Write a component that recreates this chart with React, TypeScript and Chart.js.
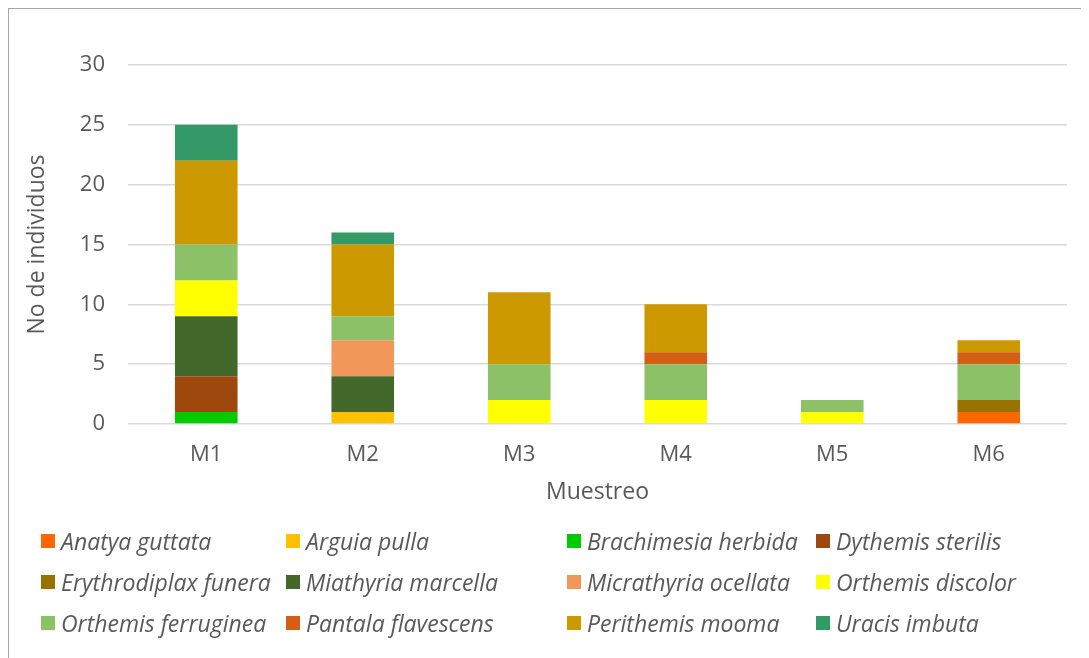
import React, { useEffect, useRef } from "react";
import { Chart, registerables } from "chart.js";

Chart.register(...registerables);

const categories = ["M1", "M2", "M3", "M4", "M5", "M6"];

const species = [
  "Anatya guttata",
  "Arguia pulla",
  "Brachimesia herbida",
  "Dythemis sterilis",
  "Erythrodiplax funera",
  "Miathyria marcella",
  "Micrathyria ocellata",
  "Orthemis discolor",
  "Orthemis ferruginea",
  "Pantala flavescens",
  "Perithemis mooma",
  "Uracis imbuta",
];

const anatyaGuttata = [0, 0, 0, 0, 0, 1];
const arguiaPulla = [0, 1, 0, 0, 0, 0];
const brachimesiaHerbida = [1, 0, 0, 0, 0, 0];
const dythemisSterilis = [3, 0, 0, 0, 0, 0];
const erythrodiplaxFunera = [0, 0, 0, 0, 0, 1];
const miathyriaMarcella = [5, 3, 0, 0, 0, 0];
const micrathyriaOcellata = [0, 3, 0, 0, 0, 0];
const orthemisDiscolor = [3, 0, 2, 2, 1, 0];
const orthemisFerruginea = [3, 2, 3, 3, 1, 3];
const pantalaFlavescens = [0, 0, 0, 1, 0, 1];
const perithemisMooma = [7, 6, 6, 4, 0, 1];
const uracisImbuta = [3, 1, 0, 0, 0, 0];

const seriesValues = [
  anatyaGuttata,
  arguiaPulla,
  brachimesiaHerbida,
  dythemisSterilis,
  erythrodiplaxFunera,
  miathyriaMarcella,
  micrathyriaOcellata,
  orthemisDiscolor,
  orthemisFerruginea,
  pantalaFlavescens,
  perithemisMooma,
  uracisImbuta,
];

const colors = [
  "#FF6600",
  "#FFC000",
  "#00CC00",
  "#9E480E",
  "#997300",
  "#43682B",
  "#F1975A",
  "#FFFF00",
  "#8CC168",
  "#D45F14",
  "#CC9900",
  "#339966",
];

const yTicks = [0, 5, 10, 15, 20, 25, 30];

const FONT = "'Open Sans', sans-serif";
const TEXT = "#595959";

export default function App() {
  const ref = useRef<HTMLCanvasElement | null>(null);

  useEffect(() => {
    if (!ref.current) return;
    const chart = new Chart(ref.current, {
      type: "bar",
      data: {
        labels: categories,
        datasets: species.map((name, i) => ({
          label: name,
          data: seriesValues[i],
          backgroundColor: colors[i],
          borderWidth: 0,
          barPercentage: 0.4,
          categoryPercentage: 1,
        })),
      },
      options: {
        animation: false,
        responsive: true,
        maintainAspectRatio: false,
        layout: { padding: { left: 12, right: 14, top: 57, bottom: 17 } },
        plugins: {
          legend: { display: false },
          tooltip: { enabled: false },
        },
        scales: {
          x: {
            stacked: true,
            grid: { display: false, drawTicks: false },
            border: { display: false },
            ticks: {
              color: TEXT,
              padding: 18,
              font: { family: FONT, size: 22 },
            },
            title: {
              display: true,
              text: "Muestreo",
              color: TEXT,
              padding: { top: -8, bottom: 0 },
              font: { family: FONT, size: 23 },
            },
          },
          y: {
            stacked: true,
            min: 0,
            max: 30,
            afterFit: (scale: any) => {
              scale.width = 108;
            },
            afterBuildTicks: (scale: any) => {
              scale.ticks = yTicks.map((v) => ({ value: v }));
            },
            grid: { color: "#D9D9D9", lineWidth: 1.5, drawTicks: false },
            border: { display: false },
            ticks: {
              color: TEXT,
              padding: 23,
              font: { family: FONT, size: 22 },
            },
            title: {
              display: true,
              text: "No de individuos",
              color: TEXT,
              padding: { top: 4, bottom: 0 },
              font: { family: FONT, size: 23 },
            },
          },
        },
      },
    });
    return () => chart.destroy();
  }, []);

  const colWidths = [245, 281, 249, 240];

  return (
    <div style={{ position: "relative", width: 1073, height: 650 }}>
      <div
        style={{
          position: "absolute",
          left: -1,
          top: -1,
          width: 1100,
          height: 700,
          borderTop: "2px solid #A6A6A6",
          borderLeft: "2px solid #A6A6A6",
          pointerEvents: "none",
        }}
      />
      <div style={{ position: "absolute", left: 0, top: 0, width: 1073, height: 515 }}>
        <canvas ref={ref} />
      </div>
      <div
        style={{
          position: "absolute",
          left: 33,
          top: 512,
          display: "grid",
          gridTemplateColumns: colWidths.map((w) => w + "px").join(" "),
          gridAutoRows: "41px",
          fontFamily: FONT,
          fontStyle: "italic",
          fontSize: 23,
          color: TEXT,
        }}
      >
        {species.map((name, i) => (
          <div key={name} style={{ display: "flex", alignItems: "center", whiteSpace: "nowrap" }}>
            <span
              style={{
                display: "inline-block",
                width: 14,
                height: 14,
                background: colors[i],
                marginRight: 6,
                flex: "0 0 auto",
              }}
            />
            <span>{name}</span>
          </div>
        ))}
      </div>
    </div>
  );
}
